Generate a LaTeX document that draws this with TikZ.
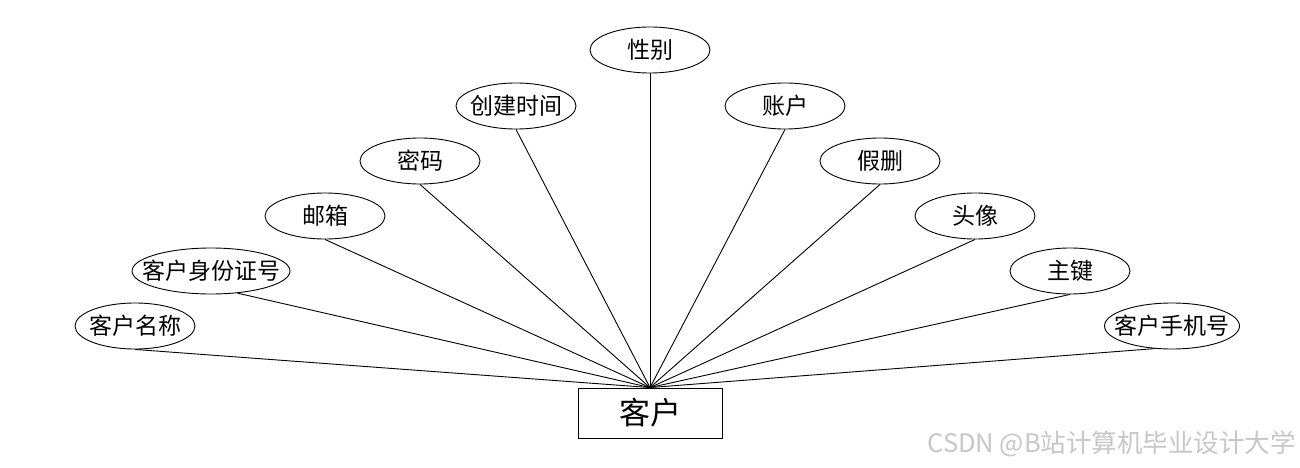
\documentclass[tikz,border=0pt]{standalone}
\usepackage{fontspec}
\setmainfont{Noto Sans CJK SC}
\usetikzlibrary{shapes.geometric}
\newcommand{\zw}[1]{\makebox[0pt]{#1}}
\tikzset{
  attr/.style={draw, ellipse, line width=0.9pt, inner sep=0pt, minimum width=120pt, minimum height=46pt, font=\fontsize{23}{26}\selectfont},
  entity/.style={draw, rectangle, line width=0.9pt, inner sep=0pt, minimum width=144pt, minimum height=50pt, font=\fontsize{31}{34}\selectfont},
  conn/.style={line width=0.9pt}
}
\begin{document}
\begin{tikzpicture}[x=1pt,y=-1pt]
\useasboundingbox[fill=white] (0,0) rectangle (1300,468);
\node[entity] (e) at (650,413) {客户};
\node[attr] (a1) at (135,326) {\zw{客户名称}};
\node[attr, minimum width=158pt] (a2) at (211,271) {\zw{客户身份证号}};
\node[attr] (a3) at (325,216) {\zw{邮箱}};
\node[attr] (a4) at (420,161) {\zw{密码}};
\node[attr] (a5) at (516,106) {\zw{创建时间}};
\node[attr] (a6) at (650,50) {\zw{性别}};
\node[attr] (a7) at (785,106) {\zw{账户}};
\node[attr] (a8) at (880,161) {\zw{假删}};
\node[attr] (a9) at (975,216) {\zw{头像}};
\node[attr] (a10) at (1070,271) {\zw{主键}};
\node[attr, minimum width=135pt] (a11) at (1172,326) {\zw{客户手机号}};
\draw[conn] (a1.south) -- (e.north);
\draw[conn] (a2.-40) -- (e.north);
\draw[conn] (a3.south) -- (e.north);
\draw[conn] (a4.south) -- (e.north);
\draw[conn] (a5.south) -- (e.north);
\draw[conn] (a6.south) -- (e.north);
\draw[conn] (a7.south) -- (e.north);
\draw[conn] (a8.south) -- (e.north);
\draw[conn] (a9.south) -- (e.north);
\draw[conn] (a10.south) -- (e.north);
\draw[conn] (a11.-128) -- (e.north);
\node[anchor=east, text=black!22, font=\fontsize{25.5}{28}\selectfont, inner sep=0pt] (wm) at (1296,444) {CSDN @B站计算机毕业设计大学};
\end{tikzpicture}
\end{document}
